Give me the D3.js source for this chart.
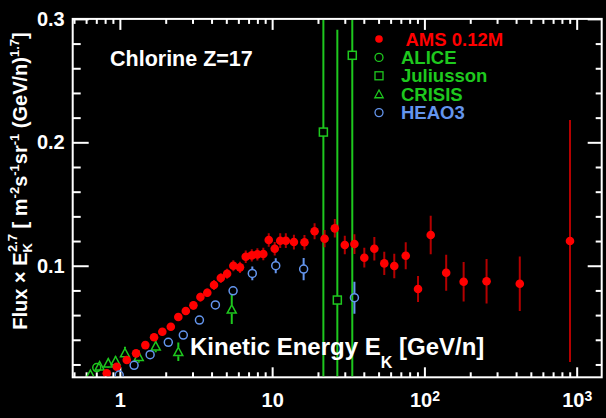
<!DOCTYPE html>
<html>
<head>
<meta charset="utf-8">
<title>Chlorine flux</title>
<script src="https://d3js.org/d3.v7.min.js"></script>
<style>
  body { margin: 0; background: #000; }
  text { font-family: "Liberation Sans", Arial, Helvetica, sans-serif; font-weight: bold; }
</style>
</head>
<body>
<div id="chart"></div>
<script>
// AMS 0.12M (red dots)
var amsE = [0.82,0.954,1.11,1.278,1.47,1.677,1.90,2.16,2.42,2.71,3.04,3.38,3.75,4.15,4.60,5.06,5.56,6.15,6.71,7.35,8.0,8.75,9.5,10.4,11.3,12.3,13.9,16.3,19.0,22.1,25.8,30.0,34.7,40.3,46.9,54.5,63.4,75.4,90.8,110,139,181,256,423,904];
var amsFlux = [0.0128,0.0182,0.0236,0.029,0.0357,0.042,0.0465,0.0506,0.0584,0.0633,0.0679,0.0746,0.0781,0.0844,0.090,0.0935,0.100,0.0987,0.1073,0.1084,0.1092,0.1095,0.1208,0.1138,0.1203,0.1203,0.1192,0.119,0.1279,0.1219,0.1303,0.1168,0.1176,0.1065,0.1138,0.1019,0.0998,0.1081,0.0811,0.1249,0.0943,0.087,0.0874,0.0854,0.120];
var amsErr = [0.002,0.002,0.002,0.0025,0.0025,0.003,0.003,0.003,0.003,0.003,0.0035,0.0035,0.0035,0.004,0.004,0.004,0.0045,0.0045,0.005,0.005,0.005,0.005,0.0055,0.0055,0.006,0.006,0.006,0.006,0.0065,0.007,0.0075,0.0075,0.008,0.008,0.0095,0.0095,0.010,0.011,0.0105,0.0155,0.0145,0.016,0.018,0.022,0.098];

// ALICE (green circle)
var aliceE = [0.705];
var aliceFlux = [0.0175];
var aliceErr = [0.002];

// Juliusson (green squares)
var julE = [21.7,26.8,33.6];
var julFlux = [0.2083,0.0722,0.2705];
var julErr = [0.21,0.219,0.3];

// CRISIS (green triangles)
var crisisE = [0.64,0.736,0.839,0.937,1.08,1.33,1.72,2.42,5.43];
var crisisFlux = [0.0118,0.0187,0.0211,0.0228,0.0293,0.0263,0.0349,0.0303,0.0647];
var crisisErr = [0.002,0.003,0.004,0.004,0.005,0.005,0.005,0.0075,0.012];

// HEAO3 (blue circles)
var heaoE = [0.99,1.24,1.58,2.08,2.61,3.33,4.24,5.54,7.41,10.56,16.1,34.7];
var heaoFlux = [0.0114,0.0193,0.0279,0.0379,0.0438,0.056,0.0682,0.0797,0.0938,0.100,0.0973,0.0741];
var heaoErr = [0.001,0.0015,0.002,0.002,0.0025,0.003,0.003,0.0035,0.0055,0.006,0.009,0.013];

var xMajor = [1, 10, 100, 1000];
var xMajorLabels = [["1",""], ["10",""], ["10","2"], ["10","3"]];
var yMajor = [0.1, 0.2, 0.3];
var yMajorLabels = ["0.1", "0.2", "0.3"];

var legendLabels = [" AMS 0.12M", "ALICE", "Juliusson", "CRISIS", "HEAO3"];
var legendColors = ["#ff0000", "#1ec81e", "#1ec81e", "#1ec81e", "#6495ed"];

var width = 606, height = 418;
var pL = 72.7, pR = 601.7, pT = 18.9, pB = 377.3;

var red = "#ff0000", darkRed = "#b40000", green = "#1ec81e", blue = "#6495ed";

var svg = d3.select("#chart").append("svg")
    .attr("width", width).attr("height", height)
    .style("background", "#000");

var x = d3.scaleLog().domain([0.49, 1460]).range([pL, pR]);
var y = d3.scaleLinear().domain([0.0096, 0.3]).range([pB, pT]);

// minor tick positions
var xMinor = [];
[0.1, 1, 10, 100, 1000].forEach(function(d) {
    for (var k = 2; k <= 9; k++) {
        var v = d * k;
        if (v >= 0.49 && v <= 1460) xMinor.push(v);
    }
});
var yMinor = d3.range(0.02, 0.3, 0.02).filter(function(v) {
    return Math.abs(v - 0.1) > 1e-6 && Math.abs(v - 0.2) > 1e-6;
});

function styleAxis(g) {
    g.select(".domain").remove();
    g.selectAll("line").attr("stroke", "#fff").attr("stroke-width", 2);
    g.selectAll("text").attr("fill", "#fff").style("font-size", "20px");
}

// bottom axis
svg.append("g").attr("transform", "translate(0," + pB + ")")
    .call(d3.axisBottom(x).tickValues(xMinor).tickSize(-5).tickFormat(""))
    .call(styleAxis);
var bx = svg.append("g").attr("transform", "translate(0," + pB + ")")
    .call(d3.axisBottom(x).tickValues(xMajor).tickSize(-10).tickPadding(16).tickFormat(function() { return ""; }))
    .call(styleAxis);
bx.selectAll(".tick text").each(function(d, i) {
    var t = d3.select(this);
    t.append("tspan").text(xMajorLabels[i][0]);
    if (xMajorLabels[i][1]) {
        t.append("tspan").attr("dy", "-0.45em").style("font-size", "14px").text(xMajorLabels[i][1]);
    }
});
// top axis
svg.append("g").attr("transform", "translate(0," + pT + ")")
    .call(d3.axisTop(x).tickValues(xMinor).tickSize(-5).tickFormat(""))
    .call(styleAxis);
svg.append("g").attr("transform", "translate(0," + pT + ")")
    .call(d3.axisTop(x).tickValues(xMajor).tickSize(-11).tickFormat(""))
    .call(styleAxis);

// left axis
svg.append("g").attr("transform", "translate(" + pL + ",0)")
    .call(d3.axisLeft(y).tickValues(yMinor).tickSize(-8).tickFormat(""))
    .call(styleAxis);
svg.append("g").attr("transform", "translate(" + pL + ",0)")
    .call(d3.axisLeft(y).tickValues(yMajor).tickSize(-16).tickPadding(8)
        .tickFormat(function(d, i) { return yMajorLabels[i]; }))
    .call(styleAxis);
// right axis
svg.append("g").attr("transform", "translate(" + pR + ",0)")
    .call(d3.axisRight(y).tickValues(yMinor).tickSize(-6).tickFormat(""))
    .call(styleAxis);
svg.append("g").attr("transform", "translate(" + pR + ",0)")
    .call(d3.axisRight(y).tickValues(yMajor).tickSize(-14).tickFormat(""))
    .call(styleAxis);

// frame
svg.append("rect")
    .attr("x", pL).attr("y", pT)
    .attr("width", pR - pL).attr("height", pB - pT)
    .attr("fill", "none").attr("stroke", "#fff").attr("stroke-width", 2);

svg.append("clipPath").attr("id", "clip")
  .append("rect").attr("x", pL + 1).attr("y", pT + 1)
    .attr("width", pR - pL - 2).attr("height", pB - pT - 2);

var plot = svg.append("g").attr("clip-path", "url(#clip)");

function zip(e, f, err) {
    return e.map(function(d, i) { return {e: d, f: f[i], err: err[i]}; });
}

// error bars drawn outside the marker (r = marker half size)
function errBars(data, color, r, w) {
    var g = plot.append("g").attr("stroke", color).attr("stroke-width", w);
    data.forEach(function(d) {
        var cx = x(d.e), cy = y(d.f);
        var yt = y(d.f + d.err), yb = y(d.f - d.err);
        if (cy - yt > r) g.append("line").attr("x1", cx).attr("x2", cx).attr("y1", yt).attr("y2", cy - r);
        if (yb - cy > r) g.append("line").attr("x1", cx).attr("x2", cx).attr("y1", cy + r).attr("y2", yb);
    });
}

function triPath(cx, cy, s) {
    return "M" + cx + "," + (cy - s) + "L" + (cx + s) + "," + (cy + s * 0.85) + "L" + (cx - s) + "," + (cy + s * 0.85) + "Z";
}

var ams = zip(amsE, amsFlux, amsErr);
var alice = zip(aliceE, aliceFlux, aliceErr);
var jul = zip(julE, julFlux, julErr);
var crisis = zip(crisisE, crisisFlux, crisisErr);
var heao = zip(heaoE, heaoFlux, heaoErr);

// Juliusson
errBars(jul, green, 4, 2);
plot.append("g").selectAll("rect").data(jul).enter().append("rect")
    .attr("x", function(d) { return x(d.e) - 4; })
    .attr("y", function(d) { return y(d.f) - 4; })
    .attr("width", 8).attr("height", 8)
    .attr("fill", "none").attr("stroke", green).attr("stroke-width", 1.5);

// CRISIS
errBars(crisis, green, 4.5, 2);
plot.append("g").selectAll("path").data(crisis).enter().append("path")
    .attr("d", function(d) { return triPath(x(d.e), y(d.f), 4.5); })
    .attr("fill", "none").attr("stroke", green).attr("stroke-width", 1.5);

// ALICE
errBars(alice, green, 4, 2);
plot.append("g").selectAll("circle").data(alice).enter().append("circle")
    .attr("cx", function(d) { return x(d.e); })
    .attr("cy", function(d) { return y(d.f); })
    .attr("r", 4).attr("fill", "none").attr("stroke", green).attr("stroke-width", 1.5);

// AMS
var ag = plot.append("g").attr("stroke", darkRed).attr("stroke-width", 2);
ams.forEach(function(d) {
    ag.append("line").attr("x1", x(d.e)).attr("x2", x(d.e))
      .attr("y1", y(d.f + d.err)).attr("y2", y(d.f - d.err));
});
plot.append("g").selectAll("circle").data(ams).enter().append("circle")
    .attr("cx", function(d) { return x(d.e); })
    .attr("cy", function(d) { return y(d.f); })
    .attr("r", 4.3).attr("fill", red);

// HEAO3
errBars(heao, blue, 4, 2);
plot.append("g").selectAll("circle").data(heao).enter().append("circle")
    .attr("cx", function(d) { return x(d.e); })
    .attr("cy", function(d) { return y(d.f); })
    .attr("r", 4).attr("fill", "none").attr("stroke", blue).attr("stroke-width", 1.5);

// legend
var lg = svg.append("g");
legendLabels.forEach(function(lab, i) {
    var my = 39 + i * 18.4, mx = 379;
    if (i === 0) lg.append("circle").attr("cx", mx).attr("cy", my).attr("r", 3.8).attr("fill", red);
    if (i === 1 || i === 4) lg.append("circle").attr("cx", mx).attr("cy", my).attr("r", 4)
        .attr("fill", "none").attr("stroke", legendColors[i]).attr("stroke-width", 1.3);
    if (i === 2) lg.append("rect").attr("x", mx - 4).attr("y", my - 4).attr("width", 8).attr("height", 8)
        .attr("fill", "none").attr("stroke", legendColors[i]).attr("stroke-width", 1.3);
    if (i === 3) lg.append("path").attr("d", triPath(mx, my, 4.2))
        .attr("fill", "none").attr("stroke", legendColors[i]).attr("stroke-width", 1.3);
    lg.append("text").attr("x", 401).attr("y", my + 6.5)
        .attr("fill", legendColors[i]).style("font-size", "18.5px")
        .attr("xml:space", "preserve").style("white-space", "pre")
        .text(lab);
});

// label
svg.append("text").attr("x", 110).attr("y", 66)
    .attr("fill", "#fff").style("font-size", "21.5px").text("Chlorine Z=17");

// x title
var xt = svg.append("text").attr("x", 190).attr("y", 355)
    .attr("fill", "#fff").style("font-size", "24px");
xt.append("tspan").text("Kinetic Energy E");
xt.append("tspan").attr("dy", 13).style("font-size", "16px").text("K");
xt.append("tspan").attr("dy", -13).text(" [GeV/n]");

// y title
var yt = svg.append("text")
    .attr("transform", "translate(27,181) rotate(-90)")
    .attr("text-anchor", "middle")
    .attr("fill", "#fff").style("font-size", "20px");
yt.append("tspan").text("Flux \u00d7 E");
yt.append("tspan").attr("dy", 5).style("font-size", "13px").text("K");
yt.append("tspan").attr("dx", -9).attr("dy", -15).style("font-size", "13px").text("2.7");
yt.append("tspan").attr("dy", 10).text(" [ m");
yt.append("tspan").attr("dy", -8).style("font-size", "13px").text("-2");
yt.append("tspan").attr("dy", 8).text("s");
yt.append("tspan").attr("dy", -8).style("font-size", "13px").text("-1");
yt.append("tspan").attr("dy", 8).text("sr");
yt.append("tspan").attr("dy", -8).style("font-size", "13px").text("-1");
yt.append("tspan").attr("dy", 8).text(" (GeV/n)");
yt.append("tspan").attr("dy", -8).style("font-size", "13px").text("1.7");
yt.append("tspan").attr("dy", 8).text("]");
</script>
</body>
</html>
